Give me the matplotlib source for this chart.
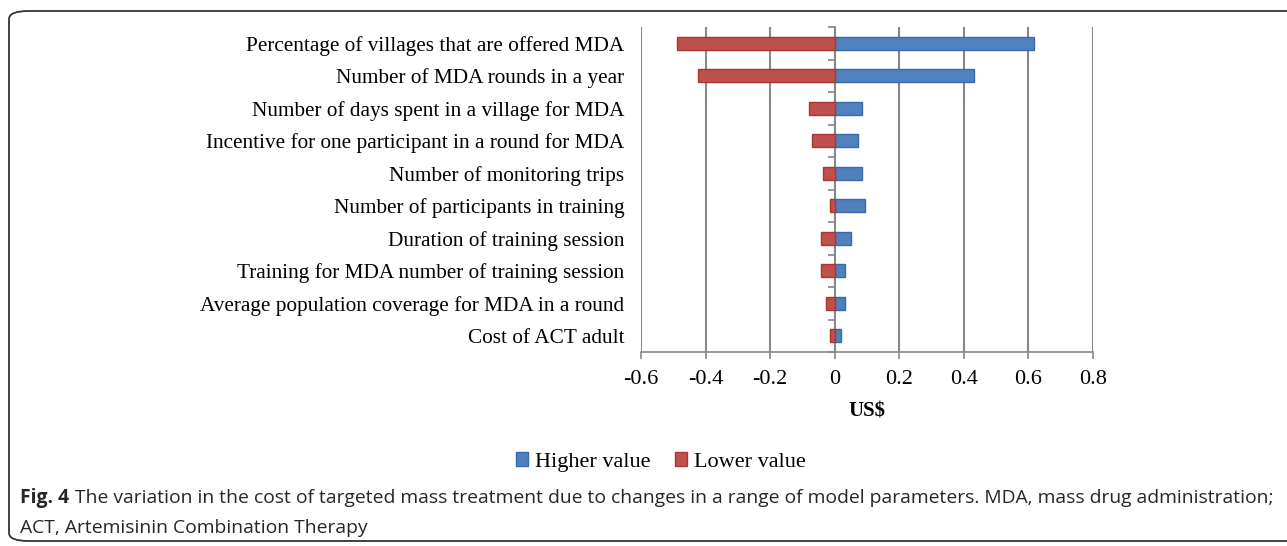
import numpy as np
import matplotlib.pyplot as plt
from matplotlib.patches import FancyBboxPatch

# Tornado chart data (US$)
params = ['Percentage of villages that are offered MDA',
          'Number of MDA rounds in a year',
          'Number of days spent in a village for MDA',
          'Incentive for one participant in a round for MDA',
          'Number of monitoring trips',
          'Number of participants in training',
          'Duration of training session',
          'Training for MDA number of training session',
          'Average population coverage for MDA in a round',
          'Cost of ACT adult']
higher = [0.616, 0.43, 0.083, 0.073, 0.083, 0.093, 0.05, 0.031, 0.031, 0.021]
lower = [-0.49, -0.425, -0.08, -0.07, -0.037, -0.015, -0.041, -0.041, -0.028, -0.015]
xticks = [-0.6, -0.4, -0.2, 0, 0.2, 0.4, 0.6, 0.8]

serif = 'Liberation Serif'
blue = '#4f81bd'
red = '#c0504d'

fig = plt.figure(figsize=(12.87, 5.46), dpi=100)
ax = fig.add_axes([641/1287, 1 - 352/546, 452/1287, 325/546])

y = np.arange(len(params))
ax.barh(y, higher, height=0.4, color=blue, edgecolor='#3a6aae', linewidth=1, label='Higher value', zorder=3)
ax.barh(y, lower, height=0.4, color=red, edgecolor='#ab3532', linewidth=1, label='Lower value', zorder=3)

ax.set_xlim(-0.6, 0.8)
ax.set_ylim(len(params) - 0.5, -0.5)
ax.set_xticks(xticks)
ax.set_xticklabels([f'{v:g}' for v in xticks], fontfamily=serif, fontsize=16)
ax.set_yticks(y)
ax.set_yticklabels(params, fontfamily=serif, fontsize=15.3)
ax.tick_params(axis='y', length=0, pad=12)
ax.tick_params(axis='x', length=5, color='#888888', width=1.2, pad=8)
ax.grid(axis='x', color='#888888', linewidth=1.5, zorder=0)
for s in ['top', 'right', 'left']:
    ax.spines[s].set_visible(False)
ax.spines['bottom'].set_color('#888888')
ax.spines['bottom'].set_linewidth(1.2)
ax.set_xlabel('US$', fontfamily=serif, fontsize=15, fontweight='bold', labelpad=9)

# category axis at zero
sec = ax.secondary_yaxis(0.6 / 1.4)
sec.set_yticks(np.arange(len(params) + 1) - 0.5)
sec.set_yticklabels([])
sec.tick_params(length=5, color='#888888', width=1.2)
sec.spines['left'].set_color('#888888')
sec.spines['left'].set_linewidth(1.2)

fig.legend(loc='center', bbox_to_anchor=(661/1287, 1 - 462/546), ncol=2, frameon=False,
           prop={'family': serif, 'size': 16}, handlelength=0.55, handleheight=0.55,
           handletextpad=0.3, columnspacing=1.1)

# caption
cap_font = dict(fontfamily='Open Sans', fontsize=13.85, va='center', color='#262626')
fig_lbl = fig.text(20/1287, 1 - 498/546, 'Fig. 4', fontweight='bold', **cap_font)
r = fig.canvas.get_renderer()
x_end = fig_lbl.get_window_extent(r).x1 / fig.bbox.width
fig.text(x_end + 6/1287, 1 - 498/546,
         'The variation in the cost of targeted mass treatment due to changes in a range of model parameters. MDA, mass drug administration;',
         **cap_font)
fig.text(20/1287, 1 - 528/546, 'ACT, Artemisinin Combination Therapy', **cap_font)

box = FancyBboxPatch((9/1287, 5/546), 1.1, 1 - 16/546, boxstyle='round,pad=0,rounding_size=0.015',
                     transform=fig.transFigure, fill=False, edgecolor='#333333', linewidth=1.3)
fig.patches.append(box)

fig.savefig('out.png', dpi=100)
